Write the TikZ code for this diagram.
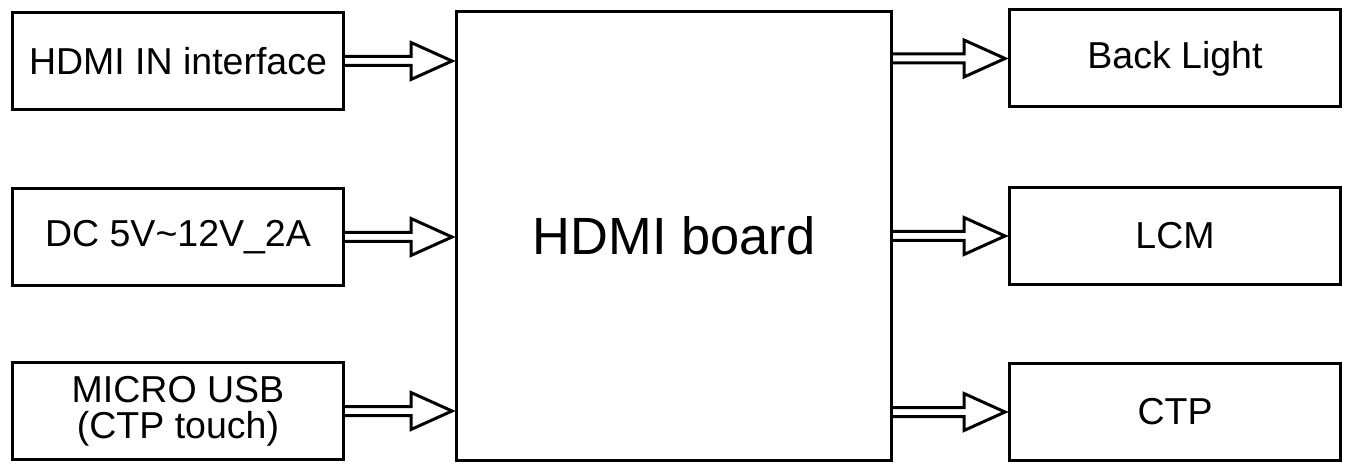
\documentclass[tikz,border=0pt]{standalone}
\usepackage{fontspec}
\setmainfont{Liberation Sans}
\usetikzlibrary{calc}

\begin{document}
\begin{tikzpicture}[
    x=0.5pt, y=-0.5pt,
    block/.style={rectangle, draw=black, line width=1.5pt, minimum width=165.5pt, minimum height=48.5pt, align=center, inner sep=0pt, font=\fontsize{18.75}{18}\selectfont},
    board/.style={rectangle, draw=black, line width=1.5pt, minimum width=217.5pt, minimum height=224.5pt, inner sep=0pt, font=\fontsize{26.2}{30}\selectfont},
    fatarrow/.style={draw=black, line width=1.5pt, line join=miter,
        to path={let \p1=(\tikztostart), \p2=(\tikztotarget) in
            (\x1,\y1+2.25pt) -- (\x2-22pt,\y1+2.25pt) -- (\x2-22pt,\y1+9.25pt) -- (\x2-1.5pt,\y1)
            -- (\x2-22pt,\y1-9.25pt) -- (\x2-22pt,\y1-2.25pt) -- (\x1,\y1-2.25pt)}}
]
\useasboundingbox (0,0) rectangle (1352,464);

% Inputs
\node[block] (hdmiin) at (178,61) {HDMI IN interface};
\node[block] (dc) at (178,237) {DC 5V\textasciitilde12V\_2A};
\node[block] (usb) at (178,411) {MICRO USB\\(CTP touch)};

% Board
\node[board] (board) at (674,236) {HDMI board};

% Outputs
\node[block] (backlight) at (1175,58.5) {Back Light};
\node[block] (lcm) at (1175,236) {LCM};
\node[block] (ctp) at (1175,412) {CTP};

% Arrows
\draw[fatarrow] (hdmiin.east) to (board.west |- hdmiin.east);
\draw[fatarrow] (dc.east) to (board.west |- dc.east);
\draw[fatarrow] (usb.east) to (board.west |- usb.east);
\draw[fatarrow] (board.east |- backlight.west) to (backlight.west);
\draw[fatarrow] (board.east |- lcm.west) to (lcm.west);
\draw[fatarrow] (board.east |- ctp.west) to (ctp.west);

\end{tikzpicture}
\end{document}
